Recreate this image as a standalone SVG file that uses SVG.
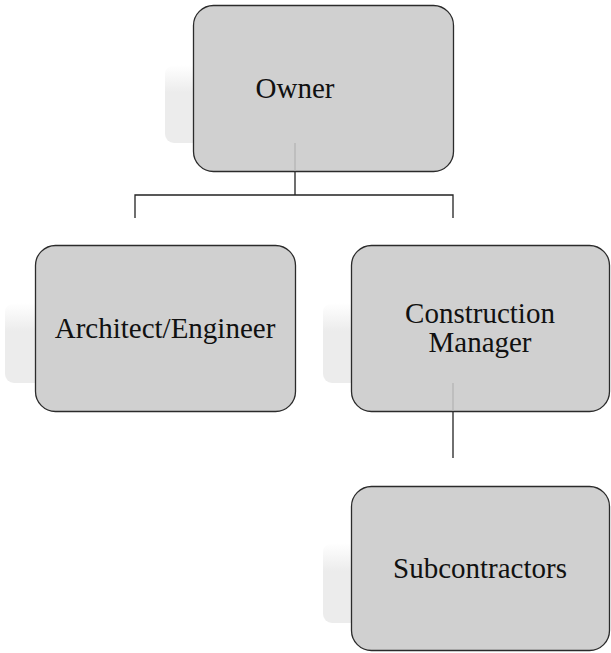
<svg xmlns="http://www.w3.org/2000/svg" width="611" height="653" viewBox="0 0 611 653">
  <defs>
    <linearGradient id="shade" x1="0" y1="0" x2="0" y2="1">
      <stop offset="0" stop-color="#ffffff"/>
      <stop offset="0.35" stop-color="#ececec"/>
      <stop offset="1" stop-color="#ececec"/>
    </linearGradient>
    <style>
      .shadow { fill: url(#shade); }
      .box { fill: #d0d0d0; stroke: #2b2b2b; stroke-width: 1.3; }
      .label { font-family: "Liberation Serif", "Times New Roman", serif; font-size: 29px; fill: #111; text-anchor: middle; }
      .link { stroke: #222; stroke-width: 1.3; fill: none; }
      .link-faint { stroke: #b2b2b2; stroke-width: 1.2; fill: none; }
    </style>
  </defs>
  <rect width="611" height="653" fill="#ffffff"/>

  <g id="connectors">
    <path class="link" d="M295 171 V195 M135 218 V195 H453 V218"/>
    <path class="link" d="M453 411 V458"/>
  </g>

  <g id="owner">
    <rect class="shadow" x="165" y="65" width="260" height="78" rx="9"/>
    <rect class="box" x="193.5" y="5.5" width="260" height="166" rx="20"/>
    <path class="link-faint" d="M295 143 V171"/>
    <text class="label" x="295" y="98">Owner</text>
  </g>

  <g id="architect-engineer">
    <rect class="shadow" x="5" y="303" width="260" height="80" rx="9"/>
    <rect class="box" x="35.5" y="245.5" width="260" height="166" rx="20"/>
    <text class="label" x="165" y="338">Architect/Engineer</text>
  </g>

  <g id="construction-manager">
    <rect class="shadow" x="323" y="303" width="260" height="80" rx="9"/>
    <rect class="box" x="351.5" y="245.5" width="258" height="166" rx="20"/>
    <path class="link-faint" d="M453 383 V411"/>
    <text class="label" x="480" y="323">Construction</text>
    <text class="label" x="480" y="352">Manager</text>
  </g>

  <g id="subcontractors">
    <rect class="shadow" x="323" y="543" width="260" height="80" rx="9"/>
    <rect class="box" x="351.5" y="486.5" width="258" height="164" rx="20"/>
    <text class="label" x="480" y="578">Subcontractors</text>
  </g>
</svg>
